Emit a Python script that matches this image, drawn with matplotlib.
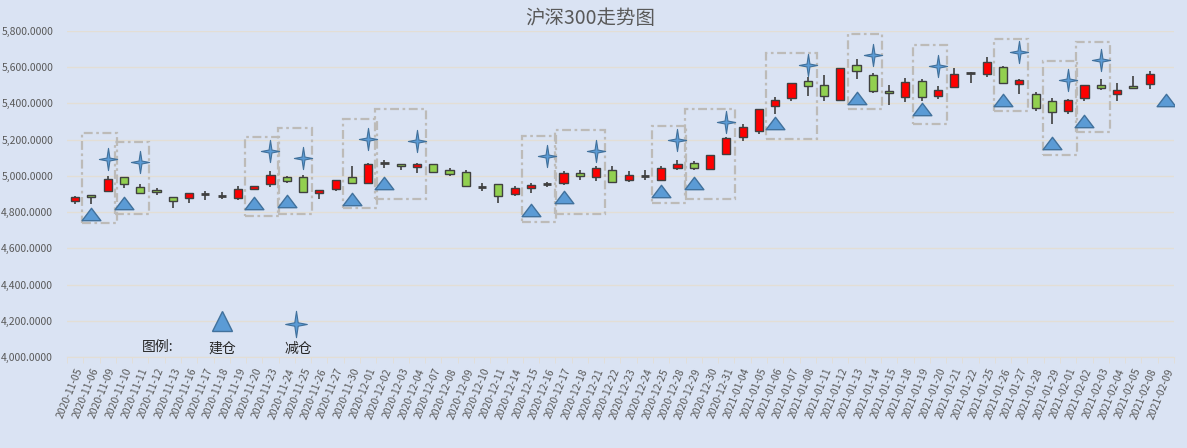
import matplotlib
matplotlib.use("Agg")
import matplotlib.pyplot as plt
from matplotlib.path import Path
from matplotlib.patches import Rectangle
from matplotlib.ticker import FuncFormatter
import numpy as np

plt.rcParams['font.family'] = ['Noto Sans CJK SC', 'DejaVu Sans']

# ---- data ----
dates = ['2020-11-05', '2020-11-06', '2020-11-09', '2020-11-10', '2020-11-11', '2020-11-12',
         '2020-11-13', '2020-11-16', '2020-11-17', '2020-11-18', '2020-11-19', '2020-11-20',
         '2020-11-23', '2020-11-24', '2020-11-25', '2020-11-26', '2020-11-27', '2020-11-30',
         '2020-12-01', '2020-12-02', '2020-12-03', '2020-12-04', '2020-12-07', '2020-12-08',
         '2020-12-09', '2020-12-10', '2020-12-11', '2020-12-14', '2020-12-15', '2020-12-16',
         '2020-12-17', '2020-12-18', '2020-12-21', '2020-12-22', '2020-12-23', '2020-12-24',
         '2020-12-25', '2020-12-28', '2020-12-29', '2020-12-30', '2020-12-31', '2021-01-04',
         '2021-01-05', '2021-01-06', '2021-01-07', '2021-01-08', '2021-01-11', '2021-01-12',
         '2021-01-13', '2021-01-14', '2021-01-15', '2021-01-18', '2021-01-19', '2021-01-20',
         '2021-01-21', '2021-01-22', '2021-01-25', '2021-01-26', '2021-01-27', '2021-01-28',
         '2021-01-29', '2021-02-01', '2021-02-02', '2021-02-03', '2021-02-04', '2021-02-05',
         '2021-02-08', '2021-02-09']

opens = [4863, 4896, 4918, 4996, 4940, 4922, 4885, 4880, 4900, 4888, 4877, 4927,
         4957, 4995, 4995, 4907, 4929, 4995, 4962, 5072, 5067, 5048, 5067, 5030,
         5023, 4938, 4956, 4901, 4932, 4953, 4962, 5017, 4993, 5034, 4979, 5002,
         4980, 5045, 5072, 5039, 5122, 5215, 5249, 5387, 5431, 5525, 5503, 5420,
         5613, 5558, 5470, 5436, 5525, 5442, 5492, 5567, 5564, 5602, 5508, 5453,
         5414, 5359, 5431, 5503, 5453, 5497, 5508, None]
highs = [4887, 4896, 4999, 4996, 4957, 4931, 4885, 4907, 4916, 4910, 4944, 4946,
         5027, 5002, 5006, 4921, 4978, 5056, 5072, 5087, 5067, 5072, 5067, 5045,
         5034, 4962, 4956, 4943, 4958, 4965, 5026, 5030, 5054, 5054, 5028, 5032,
         5057, 5087, 5082, 5117, 5215, 5287, 5370, 5437, 5514, 5545, 5556, 5597,
         5646, 5569, 5503, 5541, 5536, 5495, 5597, 5572, 5658, 5605, 5536, 5464,
         5431, 5425, 5503, 5536, 5514, 5553, 5580, None]
lows = [4843, 4846, 4918, 4931, 4907, 4892, 4824, 4852, 4869, 4870, 4866, 4920,
        4938, 4963, 4912, 4870, 4915, 4962, 4962, 5045, 5034, 5017, 5017, 4998,
        4943, 4915, 4851, 4888, 4907, 4940, 4949, 4979, 4971, 4967, 4966, 4977,
        4973, 5035, 5032, 5039, 5122, 5191, 5232, 5344, 5414, 5442, 5414, 5420,
        5536, 5459, 5392, 5409, 5414, 5425, 5492, 5514, 5547, 5510, 5453, 5359,
        5287, 5343, 5414, 5475, 5414, 5481, 5481, None]
closes = [4885, 4885, 4985, 4957, 4907, 4909, 4859, 4907, 4900, 4888, 4929, 4946,
          5007, 4973, 4912, 4921, 4978, 4962, 5067, 5072, 5056, 5067, 5023, 5009,
          4943, 4938, 4888, 4934, 4947, 4953, 5017, 4998, 5045, 4967, 5006, 5002,
          5043, 5067, 5045, 5117, 5211, 5271, 5370, 5420, 5514, 5497, 5442, 5595,
          5578, 5470, 5457, 5519, 5436, 5475, 5564, 5567, 5630, 5514, 5530, 5376,
          5354, 5420, 5503, 5486, 5475, 5486, 5564, None]

# 建仓 (open position) markers
build_dates = ['2020-11-06', '2020-11-10', '2020-11-20', '2020-11-24', '2020-11-30', '2020-12-02',
               '2020-12-15', '2020-12-17', '2020-12-25', '2020-12-29', '2021-01-06', '2021-01-13',
               '2021-01-19', '2021-01-26', '2021-01-29', '2021-02-02', '2021-02-09']
build_levels = [4787, 4850, 4850, 4859, 4875, 4958, 4809, 4886, 4914, 4958, 5290, 5430,
                5372, 5417, 5179, 5301, 5417]

# 减仓 (reduce position) markers
reduce_dates = ['2020-11-09', '2020-11-11', '2020-11-23', '2020-11-25', '2020-12-01', '2020-12-04',
                '2020-12-16', '2020-12-21', '2020-12-28', '2020-12-31', '2021-01-08', '2021-01-14',
                '2021-01-20', '2021-01-27', '2021-02-01', '2021-02-03']
reduce_levels = [5095, 5076, 5136, 5100, 5205, 5192, 5109, 5140, 5197, 5299, 5610, 5665,
                 5606, 5683, 5527, 5639]

# dashed boxes around each trade
box_start = build_dates[:-1]
box_end = reduce_dates
box_low = [4741, 4787, 4781, 4792, 4822, 4873, 4748, 4792, 4848, 4870, 5201, 5367,
           5284, 5357, 5118, 5241]
box_high = [5238, 5188, 5214, 5262, 5312, 5367, 5223, 5252, 5275, 5372, 5680, 5783,
            5722, 5757, 5634, 5739]

# ---- style ----
bg = '#DAE3F3'
up_col = '#FF0000'
down_col = '#92D050'
edge_col = '#404040'
mark_fill = '#5B9BD5'
mark_edge = '#41719C'
text_col = '#595959'
grid_col = '#E3DED5'

star = Path([(0, 1), (0.13, 0.13), (0.82, 0), (0.13, -0.13), (0, -1), (-0.13, -0.13),
             (-0.82, 0), (-0.13, 0.13), (0, 1)],
            [Path.MOVETO] + [Path.LINETO] * 7 + [Path.CLOSEPOLY])
flat_tri = Path([(0, 0.66), (1, -0.66), (-1, -0.66), (0, 0.66)],
                [Path.MOVETO, Path.LINETO, Path.LINETO, Path.CLOSEPOLY])

fig = plt.figure(figsize=(11.87, 4.48), dpi=100, facecolor=bg)
ax = fig.add_axes([67 / 1187, 1 - 357 / 448, (1174 - 67) / 1187, (357 - 31) / 448])
ax.set_facecolor(bg)

x = np.arange(len(dates))
for i in x:
    o, h, l, c = opens[i], highs[i], lows[i], closes[i]
    if o is None:
        continue
    ax.vlines(i, l, h, color=edge_col, lw=1.2, zorder=2)
    if o == c:
        ax.hlines(o, i - 0.25, i + 0.25, color=edge_col, lw=2, zorder=3)
    else:
        ax.bar(i, abs(c - o), bottom=min(o, c), width=0.5,
               color=up_col if c > o else down_col, edgecolor=edge_col, lw=1, zorder=3)

for s, e, lo, hi in zip(box_start, box_end, box_low, box_high):
    i0, i1 = dates.index(s), dates.index(e)
    ax.add_patch(Rectangle((i0 - 0.55, lo), i1 - i0 + 1.1, hi - lo, fill=False,
                           edgecolor='#BDBBB8', lw=1.6, ls=(0, (4, 1.6, 1.2, 1.6)), zorder=4))

bx = [dates.index(d) for d in build_dates]
rx = [dates.index(d) for d in reduce_dates]
ax.plot(bx, build_levels, ls='none', marker=flat_tri, ms=13.5, mfc=mark_fill, mec=mark_edge,
        mew=1, zorder=5)
ax.plot(rx, reduce_levels, ls='none', marker=star, ms=16, mfc=mark_fill, mec=mark_edge,
        mew=0.8, zorder=5)

ax.set_xlim(-0.5, len(dates) - 0.5)
ax.set_ylim(4000, 5800)
ax.set_yticks(np.arange(4000, 5801, 200))
ax.yaxis.set_major_formatter(FuncFormatter(lambda v, p: f'{v:,.4f}'))
ax.grid(axis='y', color=grid_col, lw=1, zorder=0)
ax.set_xticks(x)
ax.set_xticklabels(dates, rotation=68, ha='right', rotation_mode='anchor')
ax.set_xticks(np.arange(-0.5, len(dates), 1), minor=True)
ax.tick_params(axis='x', which='major', length=0, pad=7, labelsize=7.5, labelcolor=text_col)
ax.tick_params(axis='x', which='minor', length=4, color=grid_col)
ax.tick_params(axis='y', length=0, pad=10, labelsize=7.5, labelcolor=text_col)
for side in ['top', 'right', 'left']:
    ax.spines[side].set_visible(False)
ax.spines['bottom'].set_color(grid_col)

fig.text(590 / 1187, 1 - 18 / 448, '沪深300走势图', ha='center', va='center',
         fontsize=14, color=text_col)

# legend
fig.text(158 / 1187, 1 - 347 / 448, '图例:', ha='center', va='center', fontsize=10, color='#262626')
fig.text(222 / 1187, 1 - 349 / 448, '建仓', ha='center', va='center', fontsize=10, color='#262626')
fig.text(298 / 1187, 1 - 349 / 448, '减仓', ha='center', va='center', fontsize=10, color='#262626')
fig.lines.append(plt.Line2D([222 / 1187], [1 - 321 / 448], transform=fig.transFigure, marker='^',
                            ms=14, mfc=mark_fill, mec=mark_edge, mew=1, ls='none'))
fig.lines.append(plt.Line2D([296 / 1187], [1 - 324 / 448], transform=fig.transFigure, marker=star,
                            ms=19, mfc=mark_fill, mec=mark_edge, mew=0.8, ls='none'))

fig.savefig('out.png', dpi=100, facecolor=bg)
